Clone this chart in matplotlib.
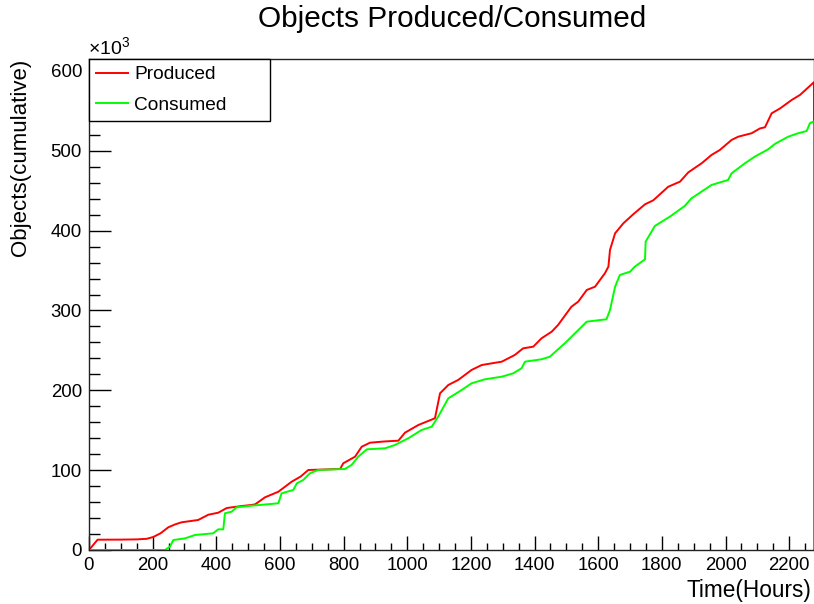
import matplotlib
matplotlib.use('Agg')
import matplotlib.pyplot as plt
from matplotlib.ticker import MultipleLocator

plt.rcParams['font.family'] = ['Liberation Sans', 'DejaVu Sans']
plt.rcParams['mathtext.fontset'] = 'custom'
plt.rcParams['mathtext.rm'] = 'Liberation Sans'

# cumulative counts in thousands, sampled along the time axis (hours)
prod_t = [0, 27, 100, 150, 181, 202, 225, 249, 270, 291, 343, 375, 406, 433, 480,
          511, 522, 553, 595, 637, 665, 689, 789, 799, 836, 857, 883, 930, 972, 993,
          1035, 1087, 1103, 1129, 1160, 1202, 1234, 1297, 1338, 1364, 1396, 1422,
          1454, 1474, 1516, 1537, 1564, 1590, 1621, 1632, 1637, 1653, 1679, 1710,
          1747, 1773, 1820, 1857, 1883, 1925, 1956, 1982, 2019, 2040, 2082, 2108,
          2124, 2145, 2171, 2208, 2234, 2278]
prod_n = [0, 12.9, 13, 13.3, 14, 16.3, 21, 28.4, 32, 34.7, 37.6, 44.2, 46.7, 52.6, 55.1,
          56.4, 57.2, 66, 73, 85.6, 92, 100.2, 101.5, 108.6, 116.9, 129.4, 134.4, 136,
          136.9, 147, 156.6, 165, 196.3, 206.7, 213, 225.5, 231.7, 235.9, 244.3, 252.6,
          254.7, 265.2, 273.5, 281.9, 304.8, 311, 325.7, 329.8, 346.6, 354.9, 375.8,
          396.7, 409.2, 420.5, 433, 438, 455, 461.4, 473, 484.4, 494.8, 501, 513.6,
          517.7, 522, 528, 529.5, 547, 553, 563.7, 570, 586]

cons_t = [0, 239, 254, 265, 302, 333, 390, 406, 422, 427, 448, 464, 511, 595, 605, 642,
          653, 673, 694, 720, 804, 825, 846, 873, 930, 961, 1003, 1045, 1077, 1097,
          1129, 1171, 1202, 1244, 1297, 1333, 1359, 1370, 1422, 1448, 1495, 1527, 1564,
          1626, 1637, 1653, 1668, 1700, 1715, 1747, 1749, 1778, 1825, 1872, 1893, 1956,
          2008, 2019, 2061, 2092, 2134, 2155, 2197, 2228, 2255, 2265, 2278]
cons_n = [0, 0, 4.2, 12.5, 14.6, 18.8, 20.9, 25.9, 25.9, 46, 48, 53.5, 55.5, 58.5, 71,
          75.2, 83.5, 87.7, 96, 100.2, 101.5, 106.5, 116.9, 126.1, 127.4, 131.5, 139.9,
          150.3, 154.5, 167, 190, 200.4, 208.8, 213.8, 217.1, 221.3, 227.6, 235.9, 238.9,
          242.1, 258.9, 271.4, 286, 289, 300.6, 329.8, 344.5, 348.6, 354.9, 364.1, 386.2,
          405.9, 417.5, 431, 440.5, 457.2, 463.5, 471.8, 484.4, 492.7, 501.9, 508.6,
          517.7, 522, 524.8, 534.5, 537]

t_max = 2278
n_max = 615

fig = plt.figure(figsize=(8.14, 6.04), dpi=100)
ax = fig.add_axes([89 / 814, 54 / 604, 725 / 814, 491 / 604])

# histogram outline drops back to zero after the last bin
ax.plot(prod_t + [prod_t[-1]], prod_n + [0], color='#ff0000', lw=1.4, label='Produced')
ax.plot(cons_t + [cons_t[-1]], cons_n + [0], color='#00ff00', lw=1.4, label='Consumed')

ax.set_xlim(0, t_max)
ax.set_ylim(0, n_max)

ax.xaxis.set_major_locator(MultipleLocator(200))
ax.xaxis.set_minor_locator(MultipleLocator(50))
ax.yaxis.set_major_locator(MultipleLocator(100))
ax.yaxis.set_minor_locator(MultipleLocator(20))
ax.tick_params(axis='x', which='major', direction='in', length=10, width=1, labelsize=13.4, pad=5)
ax.tick_params(axis='x', which='minor', direction='in', length=5, width=1)
ax.tick_params(axis='y', which='major', direction='in', length=15.8, width=1, labelsize=13.4, pad=5)
ax.tick_params(axis='y', which='minor', direction='in', length=7.9, width=1)
for s in ax.spines.values():
    s.set_linewidth(1)
    s.set_color('#222222')

ax.text(-0.002, 1.022, r'$\times10^{3}$', transform=ax.transAxes, ha='left', va='center', fontsize=14)
ax.text(-0.095, 1.0, 'Objects(cumulative)', transform=ax.transAxes, rotation=90,
        ha='center', va='top', fontsize=16)
ax.text(0.997, -0.0815, 'Time(Hours)', transform=ax.transAxes, ha='right', va='center', fontsize=16.3)
fig.text(0.556, 0.968, 'Objects Produced/Consumed', ha='center', va='center', fontsize=21.4)

leg = ax.legend(loc='upper left', bbox_to_anchor=(0, 0, 181 / 725, 1), mode='expand',
                borderaxespad=0, fancybox=False, framealpha=1, edgecolor='black',
                fontsize=13.8, borderpad=0.36, labelspacing=0.7, handlelength=1.67,
                handletextpad=0.34)
leg.get_frame().set_linewidth(1)

fig.savefig('out.png', dpi=100)
